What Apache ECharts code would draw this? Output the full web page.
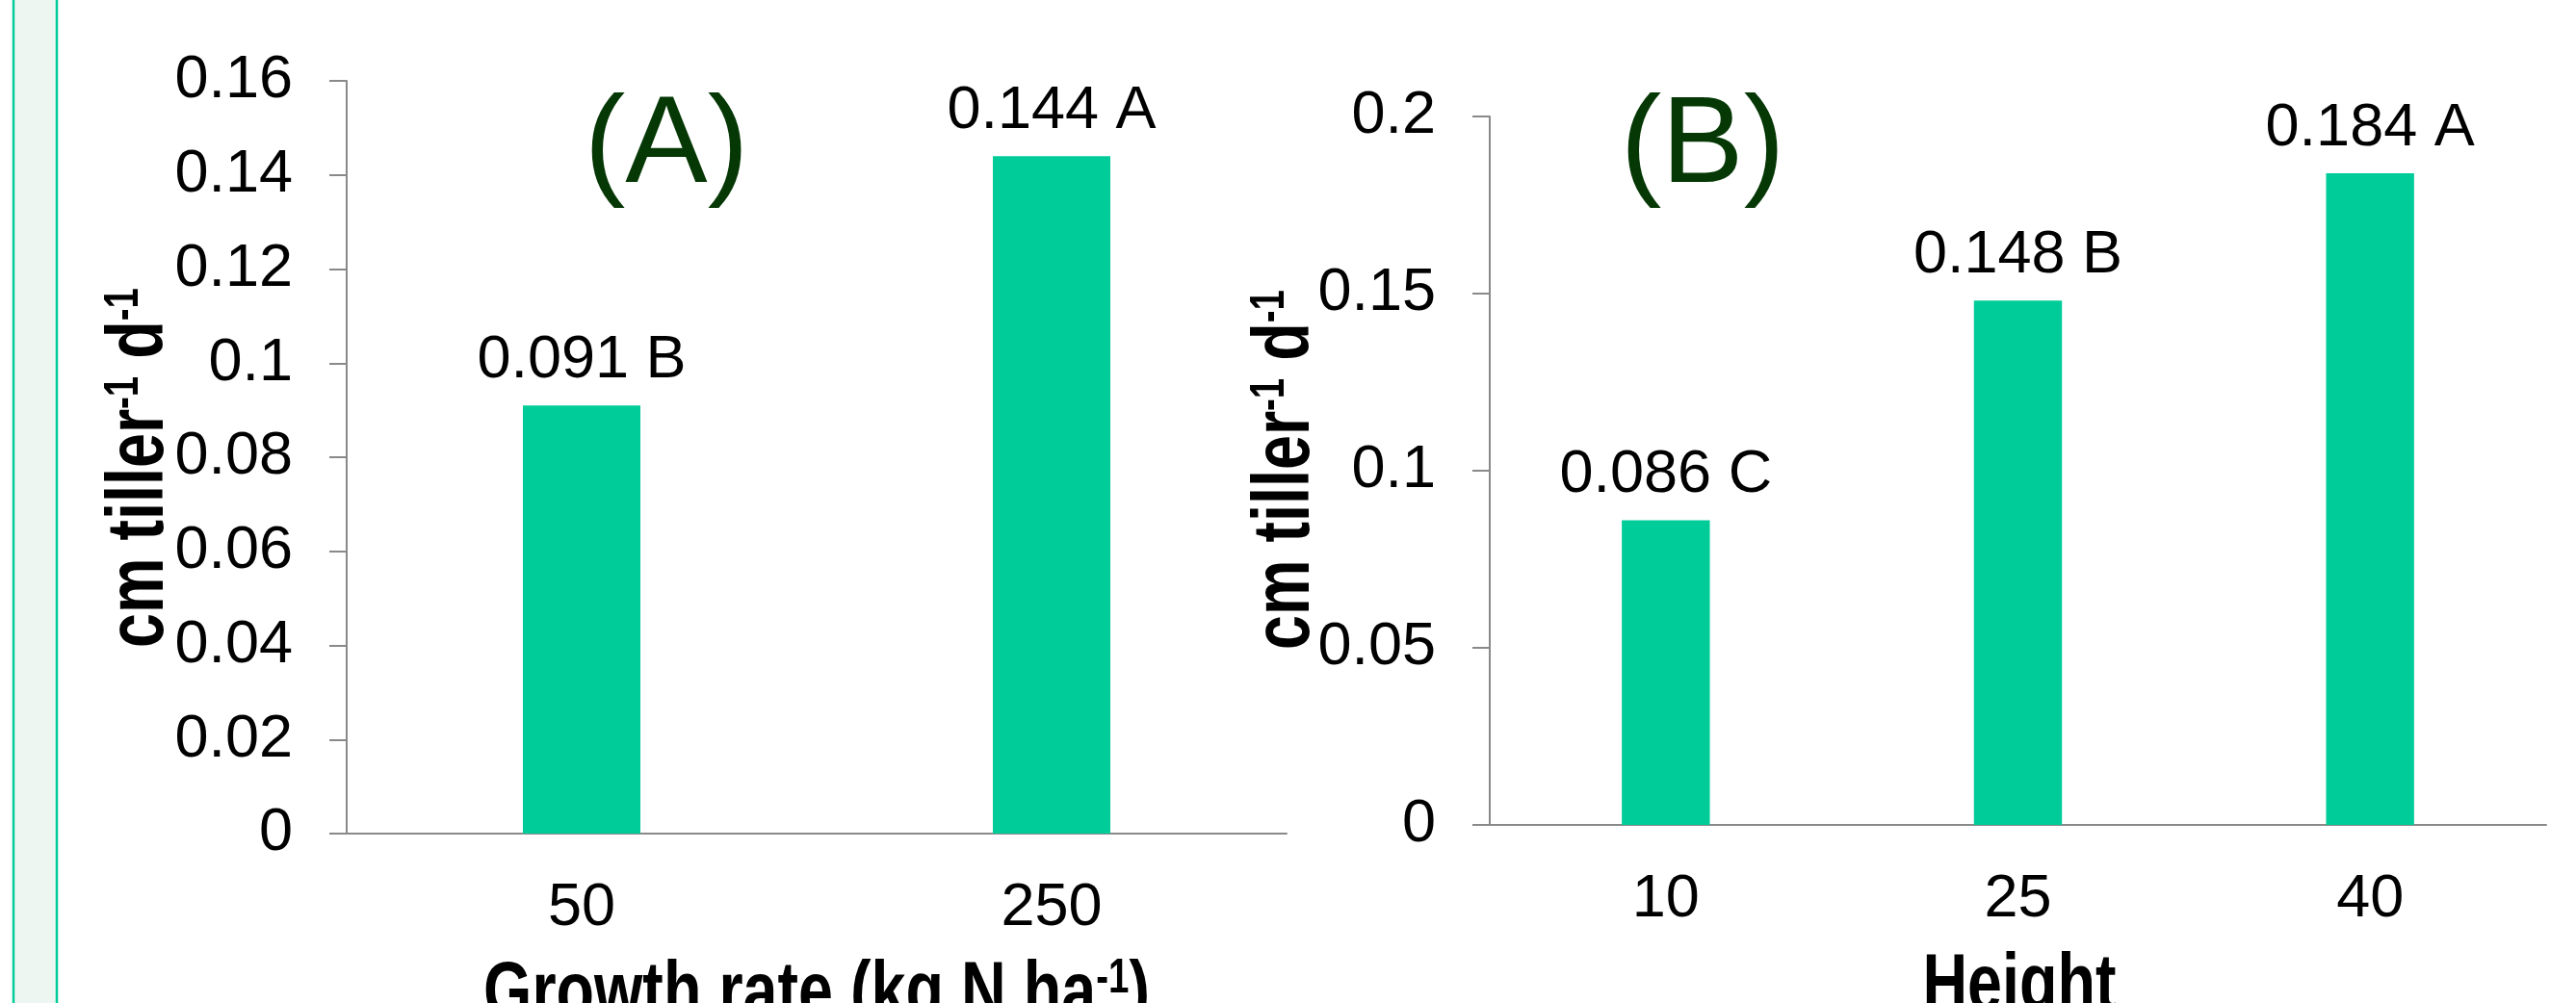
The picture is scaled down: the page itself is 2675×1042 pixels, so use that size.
<!DOCTYPE html>
<html>
<head>
<meta charset="utf-8">
<script src="https://cdn.jsdelivr.net/npm/echarts@6/dist/echarts.min.js"></script>
<style>
  html, body { margin: 0; padding: 0; background: #fff; }
  #chart { width: 2675px; height: 1042px; }
</style>
</head>
<body>
<div id="chart"></div>
<script>
// panel A - nitrogen rate
var rateCats = ['50', '250'];
var rateValues = [0.091, 0.144];
var rateLetters = ['B', 'A'];

// panel B - cutting height
var heightCats = ['10', '25', '40'];
var heightValues = [0.086, 0.148, 0.184];
var heightLetters = ['C', 'B', 'A'];

var FONT = "'Liberation Sans', Arial, sans-serif";
var AXIS_COLOR = '#898989';
var BAR_COLOR = '#00CC99';

function valueAxis(gridIndex, max, interval) {
    return {
        type: 'value',
        gridIndex: gridIndex,
        min: 0,
        max: max,
        interval: interval,
        axisLine: { show: true, lineStyle: { color: AXIS_COLOR, width: 2 } },
        axisTick: { show: true, inside: false, length: 18, lineStyle: { color: AXIS_COLOR, width: 2 } },
        splitLine: { show: false },
        axisLabel: { fontSize: 63, fontFamily: FONT, color: '#000', margin: 56 }
    };
}

function catAxis(gridIndex, cats) {
    return {
        type: 'category',
        gridIndex: gridIndex,
        data: cats,
        axisLine: { show: true, lineStyle: { color: AXIS_COLOR, width: 2 } },
        axisTick: { show: false },
        axisLabel: { fontSize: 63, fontFamily: FONT, color: '#000', margin: 46 }
    };
}

function barSeries(idx, values, letters) {
    return {
        type: 'bar',
        xAxisIndex: idx,
        yAxisIndex: idx,
        data: values,
        barWidth: '25%',
        itemStyle: { color: BAR_COLOR },
        label: {
            show: true,
            position: 'top',
            distance: 15,
            fontSize: 63,
            fontFamily: FONT,
            color: '#000',
            formatter: function (p) {
                return p.value.toFixed(3) + ' ' + letters[p.dataIndex];
            }
        }
    };
}

// bold, narrow axis title with superscripts
function axisTitle(text, x, y, rotate) {
    return {
        type: 'text',
        x: x,
        y: y,
        rotation: rotate ? Math.PI / 2 : 0,
        scaleX: 0.77,
        style: {
            text: text,
            font: 'bold 84px ' + FONT,
            fill: '#000',
            align: 'center',
            verticalAlign: 'middle',
            rich: {
                s: { fontSize: 50, fontWeight: 'bold', fontFamily: FONT, fill: '#000', verticalAlign: 'top' }
            }
        }
    };
}

function panelTag(text, x) {
    return {
        type: 'text',
        x: x,
        y: 154,
        style: {
            text: text,
            font: '128px ' + FONT,
            fill: '#063806',
            align: 'center',
            verticalAlign: 'middle'
        }
    };
}

var myChart = echarts.init(document.getElementById('chart'));
var option = {
    animation: false,
    backgroundColor: '#fff',
    grid: [
        { left: 360, top: 84, width: 976, height: 782 },
        { left: 1547, top: 121, width: 1097, height: 736 }
    ],
    xAxis: [catAxis(0, rateCats), catAxis(1, heightCats)],
    yAxis: [valueAxis(0, 0.16, 0.02), valueAxis(1, 0.2, 0.05)],
    series: [barSeries(0, rateValues, rateLetters), barSeries(1, heightValues, heightLetters)],
    graphic: [
        {
            type: 'rect',
            shape: { x: 14, y: -5, width: 45, height: 1060 },
            style: { fill: '#EEF6F2', stroke: '#00CC99', lineWidth: 2.5 }
        },
        panelTag('(A)', 692),
        panelTag('(B)', 1768),
        axisTitle('cm tiller{s|-1} d{s|-1}', 146, 486, true),
        axisTitle('cm tiller{s|-1} d{s|-1}', 1336, 488, true),
        axisTitle('Growth rate (kg N ha{s|-1})', 848, 1034, false),
        axisTitle('Height', 2097, 1026, false)
    ]
};
myChart.setOption(option);
</script>
</body>
</html>
